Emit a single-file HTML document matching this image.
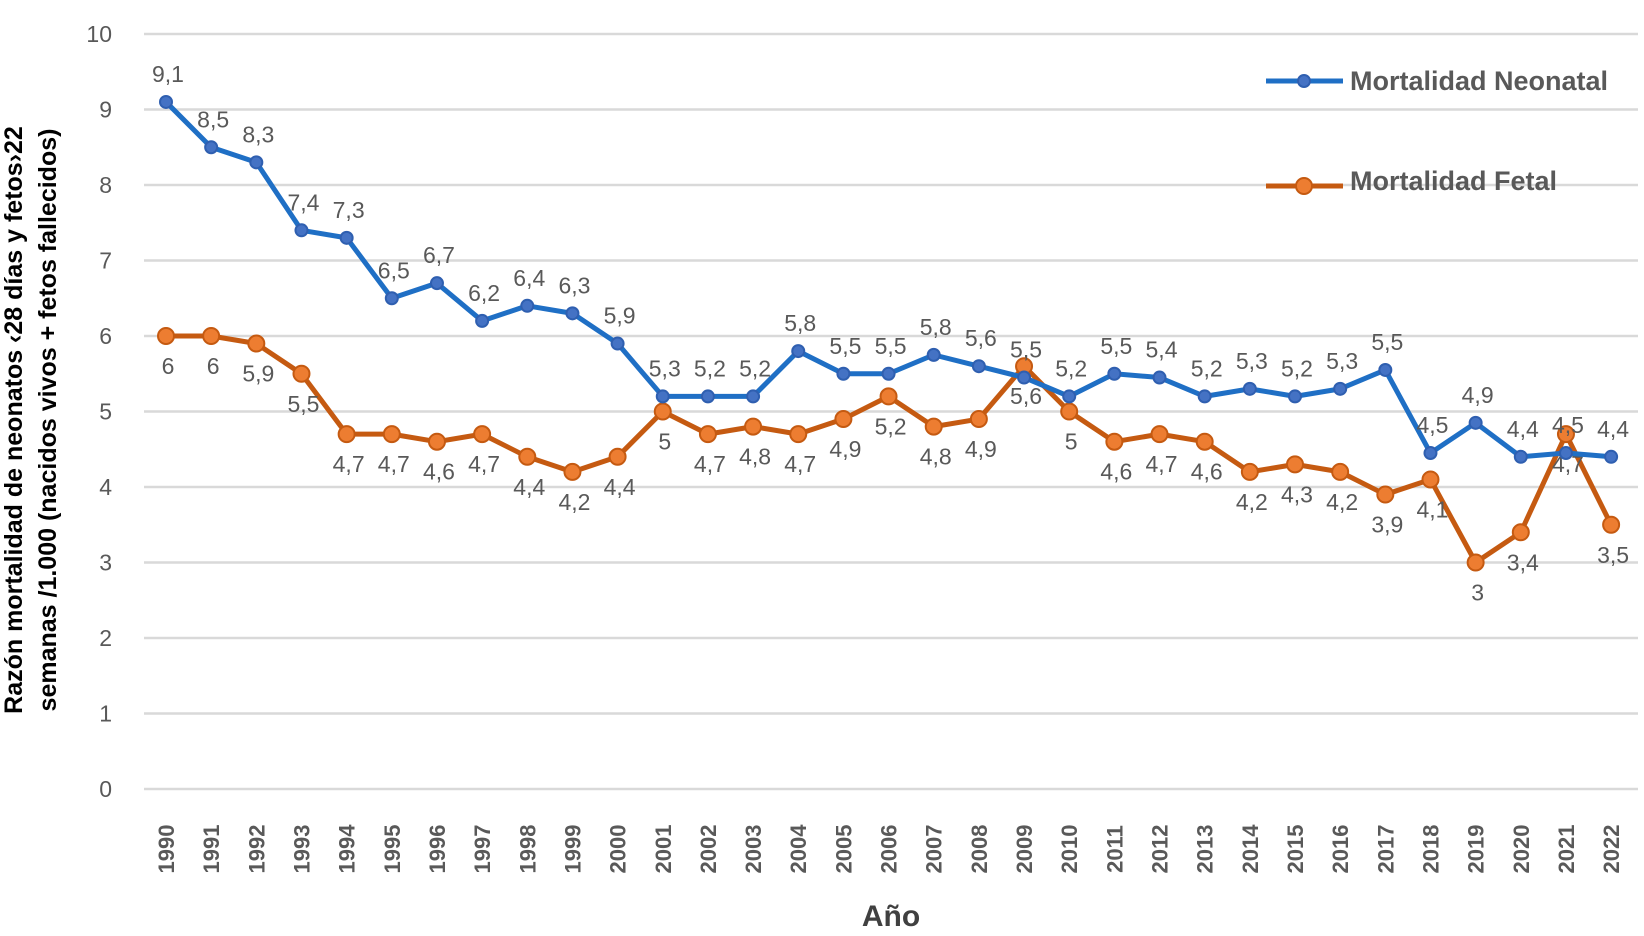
<!DOCTYPE html>
<html><head><meta charset="utf-8"><style>
body{margin:0;background:#fff;}
svg{display:block;font-family:"Liberation Sans",sans-serif;}
</style></head><body>
<svg id="chart" width="1644" height="936" viewBox="0 0 1644 936"></svg>
<script>
const years=[1990,1991,1992,1993,1994,1995,1996,1997,1998,1999,2000,2001,2002,2003,2004,2005,2006,2007,2008,2009,2010,2011,2012,2013,2014,2015,2016,2017,2018,2019,2020,2021,2022];
const neonatal=[9.1,8.5,8.3,7.4,7.3,6.5,6.7,6.2,6.4,6.3,5.9,5.2,5.2,5.2,5.8,5.5,5.5,5.75,5.6,5.45,5.2,5.5,5.45,5.2,5.3,5.2,5.3,5.55,4.45,4.85,4.4,4.45,4.4];
const neonatalLabels=["9,1","8,5","8,3","7,4","7,3","6,5","6,7","6,2","6,4","6,3","5,9","5,3","5,2","5,2","5,8","5,5","5,5","5,8","5,6","5,5","5,2","5,5","5,4","5,2","5,3","5,2","5,3","5,5","4,5","4,9","4,4","4,5","4,4"];
const fetal=[6,6,5.9,5.5,4.7,4.7,4.6,4.7,4.4,4.2,4.4,5,4.7,4.8,4.7,4.9,5.2,4.8,4.9,5.6,5,4.6,4.7,4.6,4.2,4.3,4.2,3.9,4.1,3,3.4,4.7,3.5];
const fetalLabels=["6","6","5,9","5,5","4,7","4,7","4,6","4,7","4,4","4,2","4,4","5","4,7","4,8","4,7","4,9","5,2","4,8","4,9","5,6","5","4,6","4,7","4,6","4,2","4,3","4,2","3,9","4,1","3","3,4","4,7","3,5"];
const yTicks=[0,1,2,3,4,5,6,7,8,9,10];
const NS="http://www.w3.org/2000/svg";
const svg=document.getElementById('chart');
const x=i=>166+i*45.16;
const y=v=>789-v*75.5;
function el(t,a,txt){const e=document.createElementNS(NS,t);for(const k in a)e.setAttribute(k,a[k]);if(txt!==undefined)e.textContent=txt;svg.appendChild(e);return e;}
yTicks.forEach(t=>{
 const g=el('line',{x1:144,x2:1638,y1:y(t),y2:y(t),stroke:'#d9d9d9','stroke-width':2.5});
 
 
 const l=el('text',{x:112,y:y(t)+8,'text-anchor':'end','font-size':23,fill:'#595959'},t);
 
 
});
years.forEach((yr,i)=>{
 const t=el('text',{transform:`translate(${x(i)+8},849) rotate(-90)`,'text-anchor':'middle','font-size':22,'font-weight':'bold',fill:'#595959'},yr);
 
 
});
function series(vals,labels,color,mfill,mstroke,r,name,dy){
 const p=el('polyline',{points:vals.map((v,i)=>x(i)+','+y(v)).join(' '),fill:'none',stroke:color,'stroke-width':5,'stroke-linejoin':'round'});
 
 
 vals.forEach((v,i)=>{
  const c=el('circle',{cx:x(i),cy:y(v),r:r,fill:mfill,stroke:mstroke,'stroke-width':2});
  
  
  const t=el('text',{x:x(i)+2,y:y(v)+dy,'text-anchor':'middle','font-size':23,fill:'#595959'},labels[i]);
  
  
 });
}
series(fetal,fetalLabels,'#c55a11','#ed7d31','#c55a11',8,'fetal',38);
series(neonatal,neonatalLabels,'#1f6fc5','#4472c4','#2f5fb0',6,'neonatal',-20);
let l1=el('line',{x1:1266,x2:1343,y1:81,y2:81,stroke:'#1f6fc5','stroke-width':5});

el('circle',{cx:1304,cy:81,r:6,fill:'#4472c4',stroke:'#2f5fb0','stroke-width':2});
let t1=el('text',{x:1350,y:90,'font-size':27,'font-weight':'bold',fill:'#595959'},'Mortalidad Neonatal');

let l2=el('line',{x1:1266,x2:1343,y1:186,y2:186,stroke:'#c55a11','stroke-width':5});

el('circle',{cx:1304,cy:186,r:8,fill:'#ed7d31',stroke:'#c55a11','stroke-width':2});
let t2=el('text',{x:1350,y:190,'font-size':27,'font-weight':'bold',fill:'#595959'},'Mortalidad Fetal');

let xt=el('text',{x:891,y:926,'text-anchor':'middle','font-size':30,'font-weight':'bold',fill:'#404040'},'Año');

let yt1=el('text',{transform:'translate(22,420) rotate(-90)','text-anchor':'middle','font-size':25,'font-weight':'bold',fill:'#000'},'Razón mortalidad de neonatos ‹28 días y fetos›22');

let yt2=el('text',{transform:'translate(56,420) rotate(-90)','text-anchor':'middle','font-size':25,'font-weight':'bold',fill:'#000'},'semanas /1.000 (nacidos vivos + fetos fallecidos)');

</script>
</body></html>
